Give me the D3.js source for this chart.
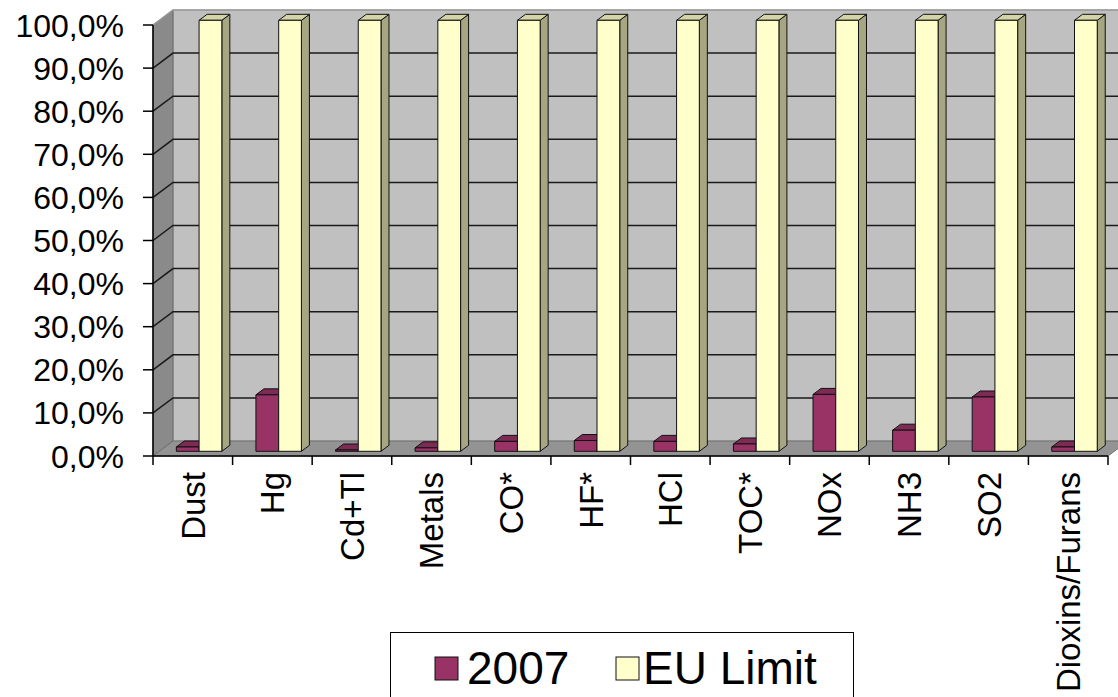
<!DOCTYPE html>
<html>
<head>
<meta charset="utf-8">
<script src="https://cdn.jsdelivr.net/npm/d3@7"></script>
<style>
  html, body { margin: 0; padding: 0; background: #ffffff; }
  svg { display: block; font-family: "Liberation Sans", Arial, sans-serif; }
</style>
</head>
<body>
<svg id="chart" width="1118" height="697"></svg>
<script>
// ---- data ----
const categories = ["Dust", "Hg", "Cd+Tl", "Metals", "CO*", "HF*", "HCl", "TOC*", "NOx", "NH3", "SO2", "Dioxins/Furans"];
const seriesNames = ["2007", "EU Limit"];
const values2007 = [1.0, 13.1, 0.3, 0.8, 2.3, 2.5, 2.3, 1.7, 13.2, 4.9, 12.6, 1.0];
const valuesEU = [100, 100, 100, 100, 100, 100, 100, 100, 100, 100, 100, 100];
const yTicks = [0, 10, 20, 30, 40, 50, 60, 70, 80, 90, 100];

(function () {
// ---- layout ----
const svg = d3.select("#chart");
const pLeft = 153, pRight = 1108, pBottom = 456, pTop = 25;
const depthX = 20, depthY = -15;           // wall depth
const barOffX = 6.3, barOffY = -4.7;        // bar front plane offset
const barDX = 8, barDY = -6;                // bar depth

const y = d3.scaleLinear().domain([0, 100]).range([pBottom, pTop]);
const x = d3.scaleBand().domain(categories).range([pLeft, pRight]).padding(0);
const xs = d3.scaleBand().domain(seriesNames).range([0, x.bandwidth()]).paddingInner(0).paddingOuter(0.75);

const locale = d3.formatLocale({decimal: ",", thousands: ".", grouping: [3], currency: ["", "€"]});
const fmt = v => locale.format(".1f")(v) + "%";

const colors = {
  "2007": {front: "#993366", top: "#7d2a55", side: "#6b2447"},
  "EU Limit": {front: "#ffffcc", top: "#d4d4a6", side: "#a6a683"}
};

const line = d3.line();

// back wall
svg.append("path")
  .attr("d", line([[pLeft + depthX, pTop + depthY], [pRight + depthX + 40, pTop + depthY], [pRight + depthX + 40, pBottom + depthY], [pLeft + depthX, pBottom + depthY]]) + "Z")
  .attr("fill", "#c0c0c0").attr("stroke", "#a0a0a0").attr("stroke-width", 1);

// left wall
svg.append("path")
  .attr("d", line([[pLeft, pTop], [pLeft + depthX, pTop + depthY], [pLeft + depthX, pBottom + depthY], [pLeft, pBottom]]) + "Z")
  .attr("fill", "#8a8a8a").attr("stroke", "#666").attr("stroke-width", 1);

// floor
svg.append("path")
  .attr("d", line([[pLeft, pBottom], [pLeft + depthX, pBottom + depthY], [pRight + depthX, pBottom + depthY], [pRight, pBottom]]) + "Z")
  .attr("fill", "#939393").attr("stroke", "#707070").attr("stroke-width", 1);

// gridlines (back wall + left wall)
const grid = svg.append("g");
yTicks.filter(t => t > 0).forEach(t => {
  const yy = y(t);
  grid.append("path")
    .attr("d", line([[pLeft, yy], [pLeft + depthX, yy + depthY], [1130, yy + depthY]]))
    .attr("fill", "none")
    .attr("stroke", t === 100 ? "#9a9a9a" : "#1a1a1a")
    .attr("stroke-width", 1.5);
});

// bars
const bars = svg.append("g");
categories.forEach((c, i) => {
  const vals = {"2007": values2007[i], "EU Limit": valuesEU[i]};
  seriesNames.forEach(s => {
    const x0 = x(c) + xs(s) + barOffX;
    const x1 = x0 + xs.bandwidth();
    const yT = y(vals[s]) + barOffY;
    const yB = y(0) + barOffY;
    const col = colors[s];
    const g = bars.append("g").attr("stroke", "#111").attr("stroke-width", 1).attr("stroke-linejoin", "round");
    g.append("path").attr("fill", col.side)
      .attr("d", line([[x1, yT], [x1 + barDX, yT + barDY], [x1 + barDX, yB + barDY], [x1, yB]]) + "Z");
    g.append("path").attr("fill", col.top)
      .attr("d", line([[x0, yT], [x0 + barDX, yT + barDY], [x1 + barDX, yT + barDY], [x1, yT]]) + "Z");
    g.append("rect").attr("fill", col.front)
      .attr("x", x0).attr("y", yT).attr("width", x1 - x0).attr("height", yB - yT);
  });
});

// axes
const axisY = svg.append("g");
axisY.append("line").attr("x1", pLeft).attr("x2", pLeft).attr("y1", pTop).attr("y2", pBottom)
  .attr("stroke", "#000").attr("stroke-width", 1.5);
yTicks.forEach(t => {
  axisY.append("line").attr("x1", pLeft - 10).attr("x2", pLeft).attr("y1", y(t)).attr("y2", y(t))
    .attr("stroke", "#000").attr("stroke-width", 1.5);
  axisY.append("text").attr("x", 124).attr("y", y(t)).attr("dy", "0.36em")
    .attr("text-anchor", "end").attr("font-size", 32).attr("fill", "#000").text(fmt(t));
});

const axisX = svg.append("g");
axisX.append("line").attr("x1", pLeft).attr("x2", pRight).attr("y1", pBottom).attr("y2", pBottom)
  .attr("stroke", "#000").attr("stroke-width", 1.5);
categories.concat([null]).forEach((c) => {
  const xx = c ? x(c) : pRight;
  axisX.append("line").attr("x1", xx).attr("x2", xx).attr("y1", pBottom).attr("y2", pBottom + 9)
    .attr("stroke", "#000").attr("stroke-width", 1.5);
  if (c) {
    const cx = x(c) + x.bandwidth() / 2;
    axisX.append("text")
      .attr("transform", `translate(${cx},472) rotate(-90)`)
      .attr("text-anchor", "end").attr("dy", "0.36em")
      .attr("font-size", 33).attr("fill", "#000").text(c);
  }
});

// legend
const lg = svg.append("g");
lg.append("rect").attr("x", 390.5).attr("y", 632.5).attr("width", 463).attr("height", 80)
  .attr("fill", "#fff").attr("stroke", "#000").attr("stroke-width", 1);
const legendItems = [{name: "2007", sx: 435, tx: 467}, {name: "EU Limit", sx: 616, tx: 643}];
legendItems.forEach(it => {
  lg.append("rect").attr("x", it.sx).attr("y", 657).attr("width", 23).attr("height", 23)
    .attr("fill", colors[it.name].front).attr("stroke", "#111").attr("stroke-width", 1);
  lg.append("text").attr("x", it.tx).attr("y", 684).attr("font-size", 46).attr("fill", "#000").text(it.name);
});
})();
</script>
</body>
</html>
